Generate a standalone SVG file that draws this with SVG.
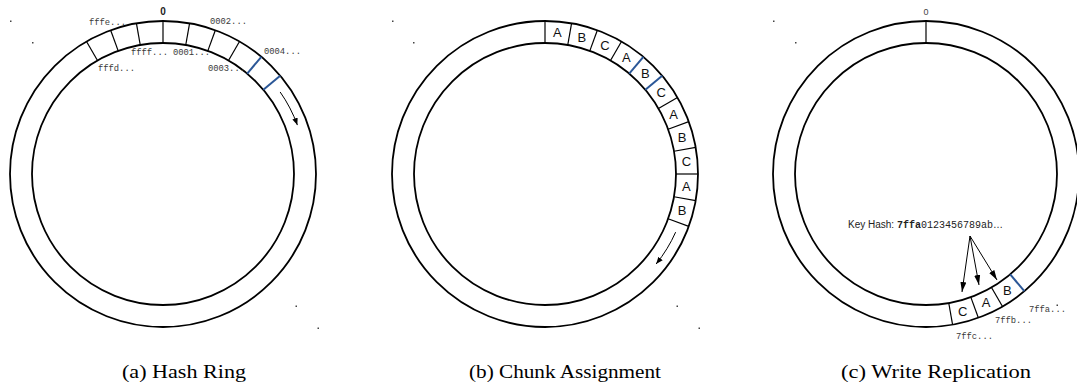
<svg xmlns="http://www.w3.org/2000/svg" width="1077" height="392" viewBox="0 0 1077 392">
<style>
.ring{fill:none;stroke:#000;stroke-width:1.8}
.seg{stroke:#000;stroke-width:1.2}
.blue{stroke:#2b5797;stroke-width:2}
.mono{font-family:"Liberation Mono","DejaVu Sans Mono",monospace;font-size:8.8px;fill:#3a3a3a}
.lab{font-family:"Liberation Sans",Arial,sans-serif;font-size:13px;fill:#111;text-anchor:middle}
.cap{font-family:"Liberation Serif","Times New Roman",serif;font-size:19px;fill:#000;text-anchor:middle}
.dot{fill:#444}
.arr{fill:none;stroke:#000;stroke-width:1}
</style>
<defs>
<marker id="ah" viewBox="0 0 10 10" refX="10" refY="5" markerWidth="7" markerHeight="7" markerUnits="userSpaceOnUse" orient="auto"><path d="M0,1 L10,5 L0,9 z" fill="#000"/></marker>
<marker id="ah2" viewBox="0 0 10 10" refX="10" refY="5" markerWidth="10" markerHeight="10" markerUnits="userSpaceOnUse" orient="auto"><path d="M0,2 L10,5 L0,8 z" fill="#000"/></marker>
</defs>
<rect width="1077" height="392" fill="#fff"/>

<g id="ring-a">
<circle class="ring" cx="163" cy="174" r="153"/>
<circle class="ring" cx="163" cy="174" r="131"/>
<line class="seg" x1="86.5" y1="41.5" x2="97.5" y2="60.55"/>
<line class="seg" x1="110.67" y1="30.23" x2="118.2" y2="50.9"/>
<line class="seg" x1="136.43" y1="23.32" x2="140.25" y2="44.99"/>
<line class="seg" x1="163" y1="21" x2="163" y2="43"/>
<line class="seg" x1="189.57" y1="23.32" x2="185.75" y2="44.99"/>
<line class="seg" x1="215.33" y1="30.23" x2="207.8" y2="50.9"/>
<line class="seg" x1="239.5" y1="41.5" x2="228.5" y2="60.55"/>
<text x="163" y="15" text-anchor="middle" style="font-family:'Liberation Sans',Arial,sans-serif;font-size:10px;font-weight:bold;fill:#222">0</text>
<text class="mono" x="89" y="25">fffe...</text>
<text class="mono" x="210" y="24">0002...</text>
<text class="mono" x="131" y="55">ffff...</text>
<text class="mono" x="173" y="55">0001...</text>
<text class="mono" x="98" y="71">fffd...</text>
<text class="mono" x="208" y="71">0003...</text>
<text class="mono" x="264" y="54">0004...</text>
<line class="blue" x1="261.35" y1="56.8" x2="247.21" y2="73.65"/>
<line class="blue" x1="280.2" y1="75.65" x2="263.35" y2="89.79"/>
<rect class="dot" x="10" y="20.5" width="1.5" height="1.5"/>
<rect class="dot" x="32" y="42" width="1.5" height="1.5"/>
<rect class="dot" x="295.5" y="305.5" width="1.5" height="1.5"/>
<rect class="dot" x="317.5" y="327.5" width="1.5" height="1.5"/>
</g>

<g id="ring-b">
<circle class="ring" cx="545" cy="174" r="153"/>
<circle class="ring" cx="545" cy="174" r="131"/>
<line class="seg" x1="545" y1="21" x2="545" y2="43"/>
<line class="seg" x1="571.57" y1="23.32" x2="567.75" y2="44.99"/>
<line class="seg" x1="597.33" y1="30.23" x2="589.8" y2="50.9"/>
<line class="seg" x1="621.5" y1="41.5" x2="610.5" y2="60.55"/>
<line class="blue" x1="643.35" y1="56.8" x2="629.21" y2="73.65"/>
<line class="blue" x1="662.2" y1="75.65" x2="645.35" y2="89.79"/>
<line class="seg" x1="677.5" y1="97.5" x2="658.45" y2="108.5"/>
<line class="seg" x1="688.77" y1="121.67" x2="668.1" y2="129.2"/>
<line class="seg" x1="695.68" y1="147.43" x2="674.01" y2="151.25"/>
<line class="seg" x1="698" y1="174" x2="676" y2="174"/>
<line class="seg" x1="695.68" y1="200.57" x2="674.01" y2="196.75"/>
<line class="seg" x1="688.77" y1="226.33" x2="668.1" y2="218.8"/>
<text class="lab" x="557.38" y="37.2">A</text>
<text class="lab" x="581.75" y="41.5">B</text>
<text class="lab" x="605.01" y="50">C</text>
<text class="lab" x="626.45" y="62.3">A</text>
<text class="lab" x="645.41" y="78.2">B</text>
<text class="lab" x="661.32" y="97.2">C</text>
<text class="lab" x="673.7" y="118.6">A</text>
<text class="lab" x="682.16" y="141.9">B</text>
<text class="lab" x="686.46" y="166.3">C</text>
<text class="lab" x="686.46" y="191">A</text>
<text class="lab" x="682.16" y="215.4">B</text>
<rect class="dot" x="392" y="20.5" width="1.5" height="1.5"/>
<rect class="dot" x="413" y="42" width="1.5" height="1.5"/>
<rect class="dot" x="676.5" y="305.5" width="1.5" height="1.5"/>
<rect class="dot" x="698.5" y="327.5" width="1.5" height="1.5"/>
</g>

<g id="ring-c">
<circle class="ring" cx="926" cy="174" r="153"/>
<circle class="ring" cx="926" cy="174" r="131"/>
<line class="seg" x1="926" y1="21" x2="926" y2="43"/>
<text x="926" y="15" text-anchor="middle" style="font-family:'Liberation Sans',Arial,sans-serif;font-size:9px;fill:#444">0</text>
<line class="blue" x1="1024.35" y1="291.2" x2="1010.21" y2="274.35"/>
<line class="seg" x1="1002.5" y1="306.5" x2="991.5" y2="287.45"/>
<line class="seg" x1="978.33" y1="317.77" x2="970.8" y2="297.1"/>
<line class="seg" x1="952.57" y1="324.68" x2="948.75" y2="303.01"/>
<text class="lab" x="1007.45" y="295">B</text>
<text class="lab" x="986.01" y="307.4">A</text>
<text class="lab" x="962.75" y="315.8">C</text>
<text class="mono" x="1029" y="312">7ffa...</text>
<text class="mono" x="995" y="323">7ffb...</text>
<text class="mono" x="956" y="339">7ffc...</text>
<text x="848" y="228" style="font-family:'Liberation Sans',Arial,sans-serif;font-size:10px;fill:#222">Key Hash: <tspan style="font-family:'Liberation Mono','DejaVu Sans Mono',monospace;font-weight:bold">7ffa</tspan><tspan style="font-family:'Liberation Mono','DejaVu Sans Mono',monospace">0123456789ab</tspan>…</text>
<rect class="dot" x="773" y="20.5" width="1.5" height="1.5"/>
<rect class="dot" x="795" y="42" width="1.5" height="1.5"/>
<rect class="dot" x="1056.5" y="304.5" width="1.5" height="1.5"/>
</g>

<g id="connectors">
<path class="arr" d="M280.14 91.98 A143 143 0 0 1 297.38 125.09" marker-end="url(#ah)"/>
<path class="arr" d="M675.64 232.16 A143 143 0 0 1 656.13 263.99" marker-end="url(#ah)"/>
<line class="arr" x1="970" y1="236" x2="962" y2="292" marker-end="url(#ah2)"/>
<line class="arr" x1="970" y1="236" x2="979" y2="285" marker-end="url(#ah2)"/>
<line class="arr" x1="970" y1="236" x2="997" y2="280" marker-end="url(#ah2)"/>
</g>

<g id="captions">
<text class="cap" x="184" y="378" textLength="124" lengthAdjust="spacingAndGlyphs">(a) Hash Ring</text>
<text class="cap" x="565" y="378" textLength="192" lengthAdjust="spacingAndGlyphs">(b) Chunk Assignment</text>
<text class="cap" x="936" y="378" textLength="190" lengthAdjust="spacingAndGlyphs">(c) Write Replication</text>
</g>
</svg>
